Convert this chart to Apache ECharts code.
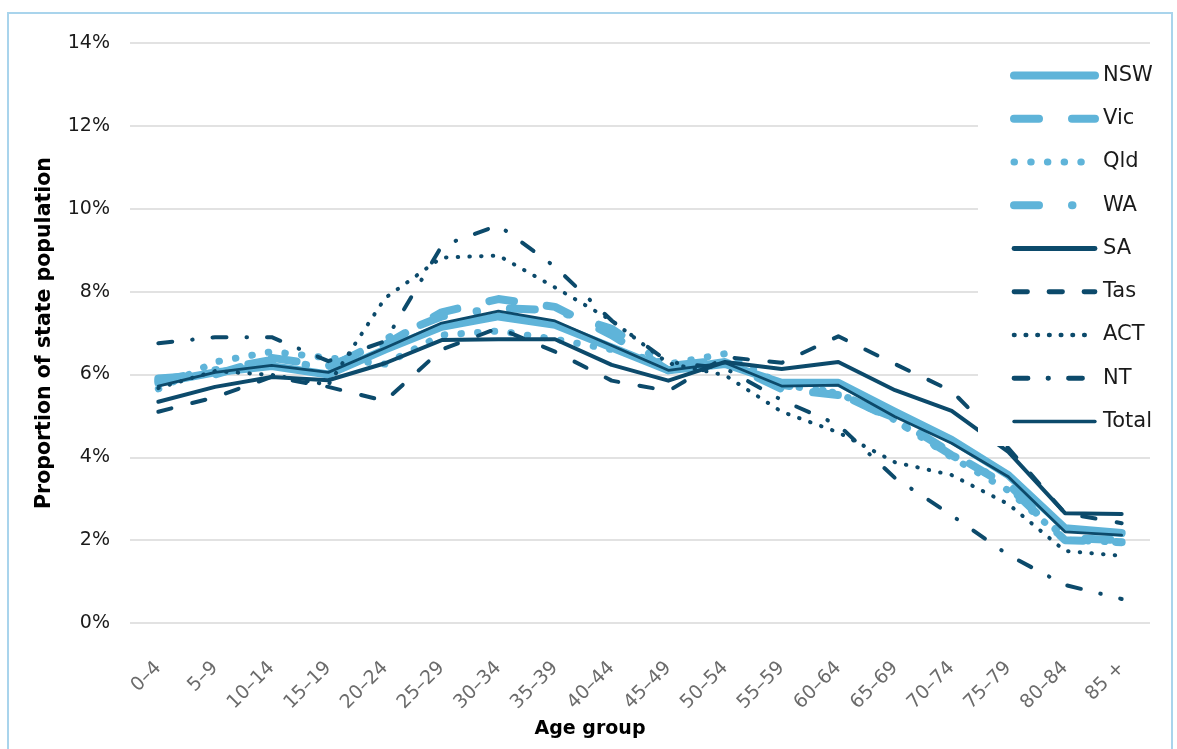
<!DOCTYPE html>
<html>
<head>
<meta charset="utf-8">
<script src="https://cdn.jsdelivr.net/npm/echarts@6/dist/echarts.min.js"></script>
<style>
  html, body { margin: 0; padding: 0; background: #ffffff; }
  #chart { width: 1177px; height: 749px; }
</style>
</head>
<body>
<div id="chart"></div>
<script>
const categories = ['0–4','5–9','10–14','15–19','20–24','25–29','30–34','35–39','40–44','45–49','50–54','55–59','60–64','65–69','70–74','75–79','80–84','85 +'];
const yTicks = [0, 2, 4, 6, 8, 10, 12, 14];

const nsw   = [5.80, 6.05, 6.20, 6.00, 6.60, 7.15, 7.40, 7.20, 6.65, 6.10, 6.25, 5.80, 5.80, 5.10, 4.42, 3.57, 2.29, 2.17];
const vic   = [5.90, 6.00, 6.40, 6.20, 6.72, 7.50, 7.82, 7.63, 6.95, 6.10, 6.30, 5.65, 5.50, 4.95, 4.10, 3.30, 2.00, 1.95];
const qld   = [5.65, 6.30, 6.55, 6.40, 6.25, 6.95, 7.05, 6.85, 6.60, 6.25, 6.50, 5.75, 5.55, 4.90, 4.00, 3.20, 2.00, 1.95];
const wa    = [5.85, 6.10, 6.35, 6.15, 6.85, 7.40, 7.60, 7.55, 7.10, 6.20, 6.35, 5.75, 5.55, 4.90, 4.05, 3.35, 2.05, 2.00];
const sa    = [5.34, 5.70, 5.94, 5.86, 6.27, 6.83, 6.85, 6.85, 6.23, 5.85, 6.30, 6.13, 6.30, 5.62, 5.12, 4.13, 2.65, 2.63];
const tas   = [5.10, 5.45, 5.94, 5.70, 5.36, 6.60, 7.12, 6.55, 5.85, 5.60, 6.42, 6.28, 6.92, 6.25, 5.60, 4.22, 2.65, 2.41];
const act   = [5.67, 6.08, 5.99, 5.75, 7.84, 8.82, 8.87, 8.10, 7.30, 6.27, 5.98, 5.10, 4.60, 3.88, 3.57, 2.87, 1.74, 1.62];
const nt    = [6.75, 6.90, 6.90, 6.32, 6.80, 9.10, 9.60, 8.60, 7.30, 6.30, 6.15, 5.38, 4.78, 3.50, 2.60, 1.64, 0.92, 0.58];
const total = [5.72, 6.05, 6.22, 6.05, 6.64, 7.24, 7.53, 7.29, 6.70, 6.10, 6.28, 5.72, 5.74, 4.98, 4.34, 3.53, 2.20, 2.12];

const LIGHT = '#5FB4D9';
const DARK = '#0C4A6B';
const FONT = 'DejaVu Sans';

const styles = {
  NSW:   { color: LIGHT, width: 8,   lw: 8,   type: 'solid' },
  Vic:   { color: LIGHT, width: 8,   lw: 8,   type: [25, 33] },
  Qld:   { color: LIGHT, width: 7,   lw: 7,   type: [0.5, 16.2] },
  WA:    { color: LIGHT, width: 8,   lw: 8,   type: [25, 33, 0.5, 33] },
  SA:    { color: DARK,  width: 4,   lw: 4.8, type: 'solid' },
  Tas:   { color: DARK,  width: 4,   lw: 4.8, type: [13.5, 21.5] },
  ACT:   { color: DARK,  width: 4,   lw: 4.6, type: [0.5, 11.2] },
  NT:    { color: DARK,  width: 4,   lw: 4.8, type: [14, 20, 0.5, 20] },
  Total: { color: DARK,  width: 2.8, lw: 3.4, type: 'solid' }
};

function mk(name, data) {
  const s = styles[name];
  return {
    name: name,
    type: 'line',
    data: data,
    symbol: 'none',
    smooth: false,
    silent: true,
    lineStyle: { color: s.color, width: s.width, type: s.type, cap: 'round', join: 'round' },
    itemStyle: { color: s.color },
    emphasis: { disabled: true }
  };
}

const series = [
  mk('NSW', nsw), mk('Vic', vic), mk('Qld', qld), mk('WA', wa),
  mk('SA', sa), mk('Tas', tas), mk('ACT', act), mk('NT', nt), mk('Total', total)
];

const legendNames = ['NSW', 'Vic', 'Qld', 'WA', 'SA', 'Tas', 'ACT', 'NT', 'Total'];
const legendData = legendNames.map(function (n) {
  const s = styles[n];
  return { name: n, lineStyle: { color: s.color, width: s.lw, type: s.type, cap: 'round', join: 'round' } };
});

const chart = echarts.init(document.getElementById('chart'), null, { renderer: 'canvas' });
chart.setOption({
  animation: false,
  backgroundColor: '#ffffff',
  textStyle: { fontFamily: FONT },
  graphic: [{
    type: 'rect', silent: true, z: 100,
    shape: { x: 8, y: 13, width: 1164, height: 800 },
    style: { fill: 'none', stroke: '#A9D4EC', lineWidth: 2 }
  }],
  grid: { left: 130, right: 27, top: 43, bottom: 126, containLabel: false },
  xAxis: {
    type: 'category',
    data: categories,
    boundaryGap: true,
    axisLine: { show: false },
    axisTick: { show: false },
    axisLabel: { rotate: 45, margin: 42, fontSize: 19, color: '#6B6B6B', fontFamily: FONT, interval: 0 },
    name: 'Age group',
    nameLocation: 'middle',
    nameGap: 90,
    nameTextStyle: { fontSize: 19, fontWeight: 'bold', color: '#000000', fontFamily: FONT, padding: [0, 100, 0, 0] }
  },
  yAxis: {
    type: 'value',
    min: yTicks[0],
    max: yTicks[yTicks.length - 1],
    interval: 2,
    axisLine: { show: false },
    axisTick: { show: false },
    splitLine: { lineStyle: { color: '#D9D9D9', width: 1.5 } },
    axisLabel: { formatter: '{value}%', margin: 20, fontSize: 19, color: '#1A1A1A', fontFamily: FONT },
    name: 'Proportion of state population',
    nameLocation: 'middle',
    nameGap: 75,
    nameTextStyle: { fontSize: 20.5, fontWeight: 'bold', color: '#000000', fontFamily: FONT }
  },
  legend: {
    orient: 'vertical',
    left: 978,
    top: 45,
    padding: [20, 5, 14, 32],
    backgroundColor: '#ffffff',
    itemWidth: 81,
    itemHeight: 20,
    itemGap: 22.25,
    selectedMode: false,
    itemStyle: { opacity: 0 },
    textStyle: { fontSize: 21, color: '#1A1A1A', fontFamily: FONT, lineHeight: 20, padding: [0, 0, 0, 3] },
    data: legendData
  },
  series: series
});
</script>
</body>
</html>
